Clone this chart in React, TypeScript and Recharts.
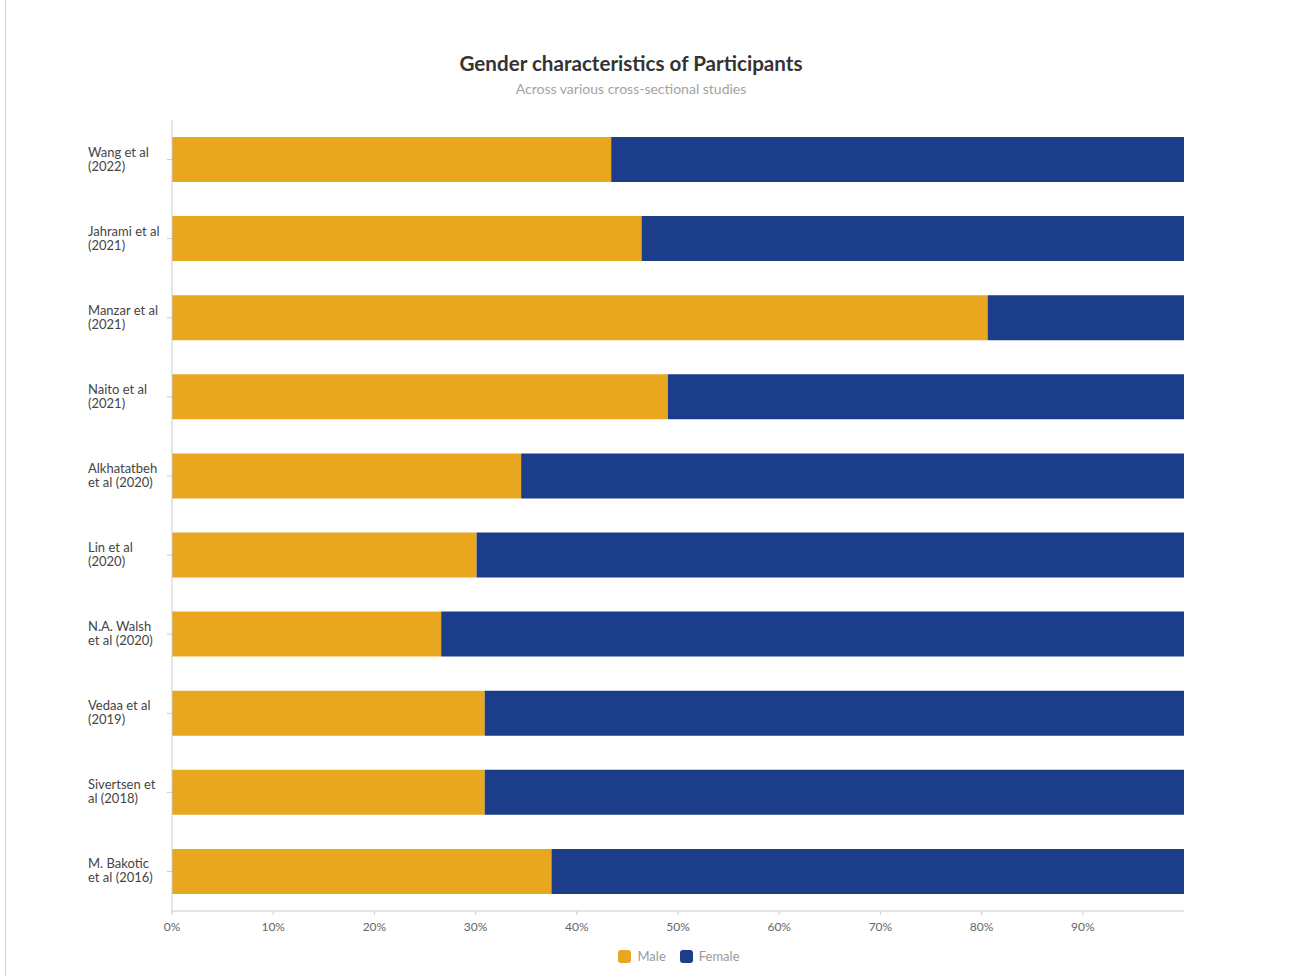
import React from 'react';
import { BarChart, Bar, XAxis, YAxis, Legend } from 'recharts';

const studies = [
  'Wang et al\n(2022)',
  'Jahrami et al\n(2021)',
  'Manzar et al\n(2021)',
  'Naito et al\n(2021)',
  'Alkhatatbeh\net al (2020)',
  'Lin et al\n(2020)',
  'N.A. Walsh\net al (2020)',
  'Vedaa et al\n(2019)',
  'Sivertsen et\nal (2018)',
  'M. Bakotic\net al (2016)',
];
const male = [43.4, 46.4, 80.6, 49.0, 34.5, 30.1, 26.6, 30.9, 30.9, 37.5];
const female = [56.6, 53.6, 19.4, 51.0, 65.5, 69.9, 73.4, 69.1, 69.1, 62.5];
const xTicks = [0, 10, 20, 30, 40, 50, 60, 70, 80, 90];

const data = studies.map((name, i) => ({ name, Male: male[i], Female: female[i] }));

const FONT = 'Lato, "Open Sans", sans-serif';
const MALE_COLOR = '#E9A71F';
const FEMALE_COLOR = '#1B3D8A';

const YTick = (props: any) => {
  const { y, payload } = props;
  const lines = String(payload.value).split('\n');
  return (
    <text x={88} y={y} fontFamily={FONT} fontSize={13} fill="#444" textAnchor="start">
      {lines.map((l: string, i: number) => (
        <tspan key={i} x={88} dy={i === 0 ? -3 : 14}>{l}</tspan>
      ))}
    </text>
  );
};

const LegendContent = () => (
  <div style={{ display: 'flex', justifyContent: 'center', gap: 14, fontFamily: FONT, fontSize: 13, color: '#9a9a9a' }}>
    {[{ n: 'Male', c: MALE_COLOR }, { n: 'Female', c: FEMALE_COLOR }].map((it) => (
      <div key={it.n} style={{ display: 'flex', alignItems: 'center', gap: 6 }}>
        <span style={{ display: 'inline-block', width: 13, height: 13, borderRadius: 3, background: it.c }} />
        <span>{it.n}</span>
      </div>
    ))}
  </div>
);

export default function App() {
  return (
    <div style={{ position: 'absolute', left: 0, top: 0, width: 1314, height: 976, background: '#fff', overflow: 'hidden' }}>
      <div style={{ position: 'absolute', left: 5, top: 0, width: 1, height: 976, background: '#cfcfcf' }} />
      <div style={{ position: 'absolute', left: 0, width: 1262, top: 51, textAlign: 'center', fontFamily: FONT, fontWeight: 700, fontSize: 20.6, color: '#333' }}>
        Gender characteristics of Participants
      </div>
      <div style={{ position: 'absolute', left: 0, width: 1262, top: 80, textAlign: 'center', fontFamily: FONT, fontWeight: 400, fontSize: 14, color: '#a3a3a3' }}>
        Across various cross-sectional studies
      </div>
      <div style={{ position: 'absolute', left: 0, top: 0 }}>
        <BarChart
          width={1314}
          height={976}
          data={data}
          layout="vertical"
          margin={{ top: 120, right: 130, bottom: 19, left: 0 }}
          barSize={45}
        >
          <XAxis
            type="number"
            domain={[0, 100]}
            ticks={xTicks}
            tickFormatter={(v: number) => `${v}%`}
            axisLine={{ stroke: '#ccc' }}
            tickLine={{ stroke: '#ccc' }}
            tickSize={4}
            tickMargin={7}
            tick={{ fontFamily: FONT, fontSize: 12, fill: '#666' }}
            height={30}
            interval={0}
          />
          <YAxis
            type="category"
            dataKey="name"
            width={172}
            axisLine={{ stroke: '#ccc' }}
            tickLine={{ stroke: '#ccc' }}
            tickSize={5}
            tick={<YTick />}
            interval={0}
          />
          <Legend
            verticalAlign="bottom"
            content={<LegendContent />}
            wrapperStyle={{ position: 'absolute', top: 948, left: 170, width: 1018 }}
          />
          <Bar dataKey="Male" stackId="a" fill={MALE_COLOR} isAnimationActive={false} />
          <Bar dataKey="Female" stackId="a" fill={FEMALE_COLOR} isAnimationActive={false} />
        </BarChart>
      </div>
    </div>
  );
}
